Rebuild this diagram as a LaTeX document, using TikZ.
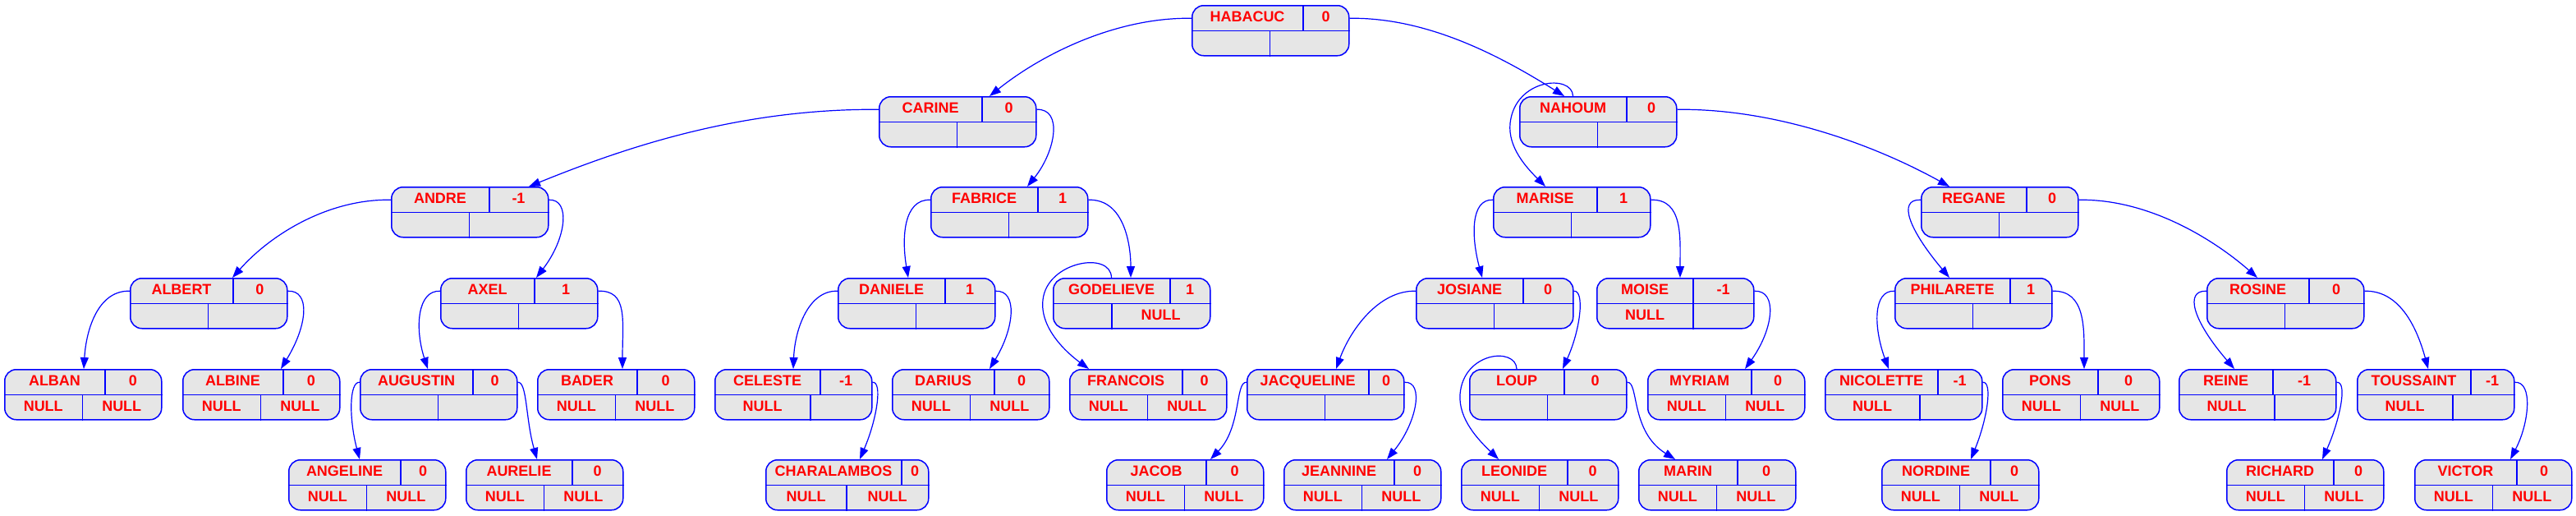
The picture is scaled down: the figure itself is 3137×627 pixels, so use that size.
\documentclass[tikz,border=0pt]{standalone}
\usepackage{fontspec}
\setmainfont{Liberation Sans}
\usetikzlibrary{arrows.meta}
\definecolor{boxfill}{RGB}{230,230,230}
\definecolor{pblue}{RGB}{0,0,255}
\definecolor{pred}{RGB}{255,0,0}
\tikzset{
  recbox/.style={rectangle, draw=pblue, fill=boxfill, line width=1.5pt, rounded corners=14pt,
    minimum height=61pt, inner sep=0pt, anchor=north west},
  recline/.style={draw=pblue, line width=1.5pt},
  rectxt/.style={text=pred, font=\fontsize{18}{20}\selectfont\bfseries, anchor=base, inner sep=0pt},
  edge/.style={draw=pblue, line width=1.2pt, -{Triangle[length=14pt,width=10pt]}},
}
\def\recw{191}
% #1 name, #2 left x, #3 top y, #4 label, #5 value, #6 top divider, #7 bottom-left, #8 bottom-right, #9 bottom divider
\newcommand\recnode[9]{%
  \node[recbox, minimum width=\recw pt] (#1) at (#2,#3) {};
  \draw[recline] (#1.west) -- (#1.east);
  \draw[recline] ([xshift=#6 pt]#1.north west) -- ([xshift=#6 pt]#1.west);
  \draw[recline] ([xshift=#9 pt]#1.west) -- ([xshift=#9 pt]#1.south west);
  \node[rectxt] (#1-n) at ([xshift={0.5*#6}, yshift=-20.5pt]#1.north west) {#4};
  \node[rectxt] (#1-v) at ([xshift={0.5*(#6+\recw)}, yshift=-20.5pt]#1.north west) {#5};
  \node[rectxt] (#1-l) at ([xshift={0.5*#9}, yshift=-51pt]#1.north west) {#7};
  \node[rectxt] (#1-r) at ([xshift={0.5*(#9+\recw)}, yshift=-51pt]#1.north west) {#8};
}
\begin{document}
\begin{tikzpicture}[x=1pt,y=-1pt]
\useasboundingbox (0,0) rectangle (3137,627);
% level 0
\recnode{HABACUC}{1451}{6}{HABACUC}{0}{136}{}{}{95.5}
% level 1
\recnode{CARINE}{1070}{117}{CARINE}{0}{126}{}{}{95.5}
\recnode{NAHOUM}{1850}{117}{NAHOUM}{0}{131}{}{}{95.5}
% level 2
\recnode{ANDRE}{476}{227}{ANDRE}{-1}{120}{}{}{95.5}
\recnode{FABRICE}{1133}{227}{FABRICE}{1}{131}{}{}{95.5}
\recnode{MARISE}{1818}{227}{MARISE}{1}{127}{}{}{95.5}
\recnode{REGANE}{2339}{227}{REGANE}{0}{129}{}{}{95.5}
% level 3
\recnode{ALBERT}{158}{338}{ALBERT}{0}{126}{}{}{95.5}
\recnode{AXEL}{536}{338}{AXEL}{1}{115}{}{}{95.5}
\recnode{DANIELE}{1020}{338}{DANIELE}{1}{131}{}{}{95.5}
\recnode{GODELIEVE}{1282}{338}{GODELIEVE}{1}{143}{}{NULL}{72}
\recnode{JOSIANE}{1724}{338}{JOSIANE}{0}{131}{}{}{95.5}
\recnode{MOISE}{1944}{338}{MOISE}{-1}{118}{NULL}{}{118}
\recnode{PHILARETE}{2307}{338}{PHILARETE}{1}{141}{}{}{95.5}
\recnode{ROSINE}{2687}{338}{ROSINE}{0}{125}{}{}{95.5}
% level 4
\recnode{ALBAN}{5}{449}{ALBAN}{0}{123}{NULL}{NULL}{95.5}
\recnode{ALBINE}{222}{449}{ALBINE}{0}{123}{NULL}{NULL}{95.5}
\recnode{AUGUSTIN}{438}{449}{AUGUSTIN}{0}{138}{}{}{95.5}
\recnode{BADER}{654}{449}{BADER}{0}{122}{NULL}{NULL}{95.5}
\recnode{CELESTE}{870}{449}{CELESTE}{-1}{129}{NULL}{}{117}
\recnode{DARIUS}{1086}{449}{DARIUS}{0}{125}{NULL}{NULL}{95.5}
\recnode{FRANCOIS}{1302}{449}{FRANCOIS}{0}{138}{NULL}{NULL}{95.5}
\recnode{JACQUELINE}{1518}{449}{JACQUELINE}{0}{149}{}{}{95.5}
\recnode{LOUP}{1789}{449}{LOUP}{0}{116}{}{}{95.5}
\recnode{MYRIAM}{2006}{449}{MYRIAM}{0}{127}{NULL}{NULL}{95.5}
\recnode{NICOLETTE}{2222}{449}{NICOLETTE}{-1}{138}{NULL}{}{116}
\recnode{PONS}{2438}{449}{PONS}{0}{117}{NULL}{NULL}{95.5}
\recnode{REINE}{2653}{449}{REINE}{-1}{115}{NULL}{}{117}
\recnode{TOUSSAINT}{2870}{449}{TOUSSAINT}{-1}{139}{NULL}{}{117}
% level 5
\recnode{ANGELINE}{351}{559}{ANGELINE}{0}{137}{NULL}{NULL}{95.5}
\recnode{AURELIE}{567}{559}{AURELIE}{0}{130}{NULL}{NULL}{95.5}
\def\recw{198}
\recnode{CHARALAMBOS}{932}{559}{CHARALAMBOS}{0}{166}{NULL}{NULL}{99}
\def\recw{191}
\recnode{JACOB}{1347}{559}{JACOB}{0}{122}{NULL}{NULL}{95.5}
\recnode{JEANNINE}{1563}{559}{JEANNINE}{0}{135}{NULL}{NULL}{95.5}
\recnode{LEONIDE}{1779}{559}{LEONIDE}{0}{130}{NULL}{NULL}{95.5}
\recnode{MARIN}{1995}{559}{MARIN}{0}{121}{NULL}{NULL}{95.5}
\recnode{NORDINE}{2291}{559}{NORDINE}{0}{133}{NULL}{NULL}{95.5}
\recnode{RICHARD}{2711}{559}{RICHARD}{0}{131}{NULL}{NULL}{95.5}
\recnode{VICTOR}{2940}{559}{VICTOR}{0}{125}{NULL}{NULL}{95.5}
% edges
\draw[edge] ([yshift=15pt]HABACUC.west) .. controls (1360,21) and (1270,65) .. ([xshift=135pt]CARINE.north west);
\draw[edge] ([yshift=15pt]HABACUC.east) .. controls (1740,21) and (1830,70) .. ([xshift=55pt]NAHOUM.north west);
\draw[edge] ([xshift=65.5pt]NAHOUM.north west) .. controls (1915,90) and (1845,95) .. (1839,150) .. controls (1836,180) and (1860,205) .. ([xshift=64pt]MARISE.north west);
\draw[edge] ([yshift=15pt]NAHOUM.east) .. controls (2160,132) and (2280,175) .. ([xshift=35pt]REGANE.north west);
\draw[edge] ([yshift=15pt]CARINE.west) .. controls (900,132) and (760,180) .. ([xshift=168pt]ANDRE.north west);
\draw[edge] ([yshift=15pt]CARINE.east) .. controls (1295,132) and (1285,185) .. ([xshift=118pt]FABRICE.north west);
\draw[edge] ([yshift=15pt]ANDRE.west) .. controls (400,242) and (330,285) .. ([xshift=125pt]ALBERT.north west);
\draw[edge] ([yshift=15pt]ANDRE.east) .. controls (695,242) and (690,290) .. ([xshift=117pt]AXEL.north west);
\draw[edge] ([yshift=15pt]ALBERT.west) .. controls (120,353) and (105,400) .. ([xshift=97pt]ALBAN.north west);
\draw[edge] ([yshift=15pt]ALBERT.east) .. controls (378,353) and (375,395) .. ([xshift=120pt]ALBINE.north west);
\draw[edge] ([yshift=15pt]AXEL.west) .. controls (508,353) and (505,400) .. ([xshift=83pt]AUGUSTIN.north west);
\draw[edge] ([yshift=15pt]AXEL.east) .. controls (765,353) and (758,390) .. ([xshift=104pt]BADER.north west);
\draw[edge] ([yshift=15pt]AUGUSTIN.west) .. controls (425,464) and (425,510) .. ([xshift=87pt]ANGELINE.north west);
\draw[edge] ([yshift=15pt]AUGUSTIN.east) .. controls (642,464) and (640,510) .. ([xshift=87pt]AURELIE.north west);
\draw[edge] ([yshift=15pt]FABRICE.west) .. controls (1100,242) and (1098,290) .. ([xshift=86pt]DANIELE.north west);
\draw[edge] ([yshift=15pt]FABRICE.east) .. controls (1370,242) and (1377,300) .. ([xshift=95pt]GODELIEVE.north west);
\draw[edge] ([yshift=15pt]DANIELE.west) .. controls (985,353) and (968,400) .. ([xshift=96pt]CELESTE.north west);
\draw[edge] ([yshift=15pt]DANIELE.east) .. controls (1240,353) and (1235,400) .. ([xshift=119pt]DARIUS.north west);
\draw[edge] ([yshift=15pt]CELESTE.east) .. controls (1075,464) and (1068,510) .. ([xshift=115pt]CHARALAMBOS.north west);
\draw[edge] ([xshift=71.5pt]GODELIEVE.north west) .. controls (1353,305) and (1275,318) .. (1270,365) .. controls (1266,400) and (1300,430) .. ([xshift=24pt]FRANCOIS.north west);
\draw[edge] ([yshift=15pt]MARISE.west) .. controls (1790,242) and (1792,290) .. ([xshift=81pt]JOSIANE.north west);
\draw[edge] ([yshift=15pt]MARISE.east) .. controls (2050,242) and (2046,290) .. ([xshift=102pt]MOISE.north west);
\draw[edge] ([yshift=15pt]JOSIANE.west) .. controls (1680,353) and (1645,400) .. ([xshift=109pt]JACQUELINE.north west);
\draw[edge] ([yshift=15pt]JOSIANE.east) .. controls (1930,353) and (1925,400) .. ([xshift=114pt]LOUP.north west);
\draw[edge] ([yshift=15pt]JACQUELINE.west) .. controls (1504,464) and (1512,520) .. ([xshift=127pt]JACOB.north west);
\draw[edge] ([yshift=15pt]JACQUELINE.east) .. controls (1735,464) and (1725,515) .. ([xshift=126pt]JEANNINE.north west);
\draw[edge] ([xshift=58pt]LOUP.north west) .. controls (1846,422) and (1782,428) .. (1778,480) .. controls (1776,510) and (1800,535) .. ([xshift=46pt]LEONIDE.north west);
\draw[edge] ([yshift=15pt]LOUP.east) .. controls (1996,464) and (1985,525) .. ([xshift=45pt]MARIN.north west);
\draw[edge] ([yshift=15pt]MOISE.east) .. controls (2165,353) and (2160,400) .. ([xshift=119pt]MYRIAM.north west);
\draw[edge] ([yshift=15pt]REGANE.west) .. controls (2310,242) and (2325,280) .. ([xshift=67pt]PHILARETE.north west);
\draw[edge] ([yshift=15pt]REGANE.east) .. controls (2620,242) and (2700,295) .. ([xshift=62pt]ROSINE.north west);
\draw[edge] ([yshift=15pt]PHILARETE.west) .. controls (2280,353) and (2282,400) .. ([xshift=78pt]NICOLETTE.north west);
\draw[edge] ([yshift=15pt]PHILARETE.east) .. controls (2540,353) and (2538,400) .. ([xshift=100pt]PONS.north west);
\draw[edge] ([yshift=15pt]NICOLETTE.east) .. controls (2427,464) and (2420,510) .. ([xshift=109pt]NORDINE.north west);
\draw[edge] ([yshift=15pt]ROSINE.west) .. controls (2660,353) and (2670,390) .. ([xshift=68pt]REINE.north west);
\draw[edge] ([yshift=15pt]ROSINE.east) .. controls (2925,353) and (2945,405) .. ([xshift=87pt]TOUSSAINT.north west);
\draw[edge] ([yshift=15pt]REINE.east) .. controls (2860,464) and (2848,515) .. ([xshift=117pt]RICHARD.north west);
\draw[edge] ([yshift=15pt]TOUSSAINT.east) .. controls (3085,464) and (3080,515) .. ([xshift=117pt]VICTOR.north west);
\end{tikzpicture}
\end{document}
